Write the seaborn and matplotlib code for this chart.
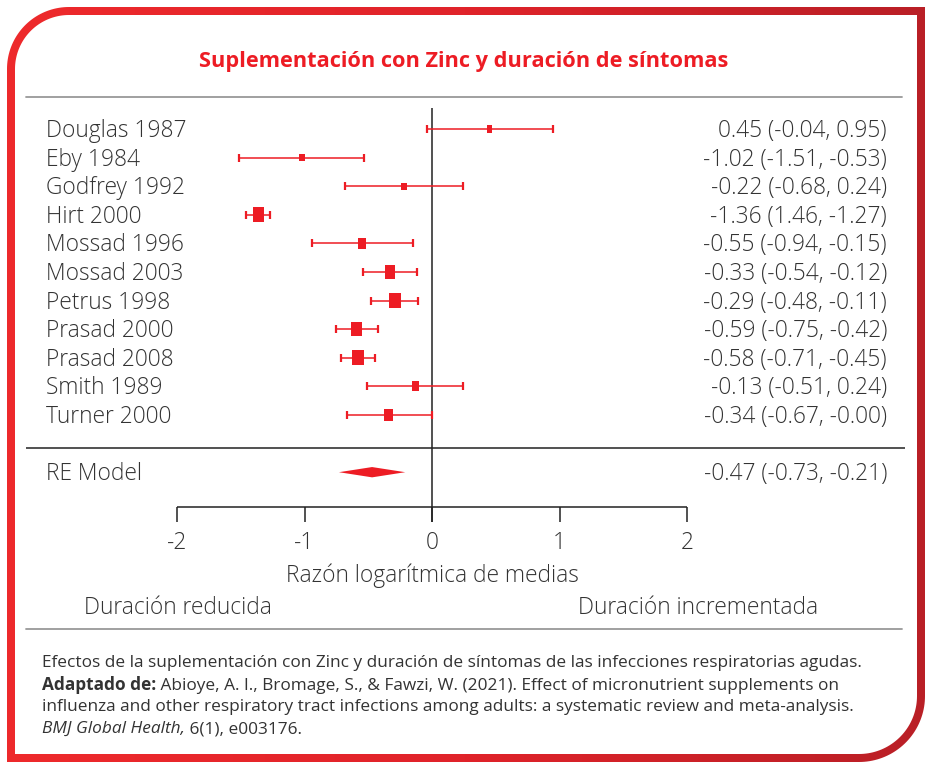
import numpy as np
import pandas as pd
import matplotlib
matplotlib.use("Agg")
import matplotlib.pyplot as plt
from matplotlib.path import Path
from matplotlib.patches import PathPatch
from matplotlib.colors import LinearSegmentedColormap
import seaborn as sns

# data
studies = ["Douglas 1987", "Eby 1984", "Godfrey 1992", "Hirt 2000", "Mossad 1996",
           "Mossad 2003", "Petrus 1998", "Prasad 2000", "Prasad 2008", "Smith 1989",
           "Turner 2000"]
est = [0.45, -1.02, -0.22, -1.36, -0.55, -0.33, -0.29, -0.59, -0.58, -0.13, -0.34]
ci_lo = [-0.04, -1.51, -0.68, -1.46, -0.94, -0.54, -0.48, -0.75, -0.71, -0.51, -0.67]
ci_hi = [0.95, -0.53, 0.24, -1.27, -0.15, -0.12, -0.11, -0.42, -0.45, 0.24, -0.00]
weights = [4.5, 4.5, 4.5, 13.0, 7.5, 11.0, 12.5, 11.5, 12.5, 6.5, 8.0]
ci_text = ["0.45 (-0.04, 0.95)", "-1.02 (-1.51, -0.53)", "-0.22 (-0.68, 0.24)",
           "-1.36 (1.46, -1.27)", "-0.55 (-0.94, -0.15)", "-0.33 (-0.54, -0.12)",
           "-0.29 (-0.48, -0.11)", "-0.59 (-0.75, -0.42)", "-0.58 (-0.71, -0.45)",
           "-0.13 (-0.51, 0.24)", "-0.34 (-0.67, -0.00)"]
re_est, re_lo, re_hi = -0.47, -0.73, -0.21
re_text = "-0.47 (-0.73, -0.21)"
xticks = [-2, -1, 0, 1, 2]

RED = "#ed1c24"
TXT = "#333333"
LW = "light"
FS = 16.4

df = pd.DataFrame({"study": studies, "est": est, "lo": ci_lo, "hi": ci_hi,
                   "weight": weights})
df["row"] = np.arange(len(df))
re_row = len(df) + 1

sns.set_theme(style="white")
plt.rcParams["font.family"] = ["Open Sans", "DejaVu Sans"]

W, H = 930, 767
fig = plt.figure(figsize=(W / 100, H / 100), dpi=100)
fig.patch.set_facecolor("white")

# background layer in pixel coordinates: red frame and grey rules
bg = fig.add_axes([0, 0, 1, 1], zorder=0)
bg.set_xlim(0, W)
bg.set_ylim(H, 0)
bg.axis("off")


def frame(x0, y0, x1, y1, r1, r2):
    t = np.linspace(0, np.pi / 2, 40)
    v = [(x0 + r1, y0), (x1, y0), (x1, y1 - r2)]
    v += list(zip(x1 - r2 + r2 * np.cos(t), y1 - r2 + r2 * np.sin(t)))
    v += [(x0, y1), (x0, y0 + r1)]
    v += list(zip(x0 + r1 + r1 * np.cos(np.pi + t), y0 + r1 + r1 * np.sin(np.pi + t)))
    return v


outer = frame(7, 7, 925, 762, 62, 66)
inner = frame(15, 15, 917, 754, 54, 58)[::-1]
verts = outer + [outer[0]] + inner + [inner[0]]
codes = ([Path.MOVETO] + [Path.LINETO] * (len(outer) - 1) + [Path.CLOSEPOLY]
         + [Path.MOVETO] + [Path.LINETO] * (len(inner) - 1) + [Path.CLOSEPOLY])
patch = PathPatch(Path(verts, codes), facecolor="none", edgecolor="none")
bg.add_patch(patch)
cmap = LinearSegmentedColormap.from_list("frame", ["#ee2a2c", "#e0232a", "#b91f26"])
grad = np.linspace(0, 1, 256).reshape(1, -1)
im = bg.imshow(grad, extent=(0, W, H, 0), cmap=cmap, aspect="auto")
im.set_clip_path(patch)
bg.set_xlim(0, W)
bg.set_ylim(H, 0)

bg.plot([26, 902], [97, 97], color="#999999", lw=1.3)
bg.plot([26, 902], [629, 629], color="#999999", lw=1.3)

fig.text(464 / W, 1 - 61 / H, "Suplementación con Zinc y duración de síntomas",
         color=RED, fontsize=15.7, fontweight="bold", ha="center", va="center")

# forest plot axes: x = log ratio of means, y = row number
ax = fig.add_axes([26 / W, (H - 629) / H, 879 / W, 532 / H], zorder=2)
ax.patch.set_alpha(0)
ax.set_xlim((26 - 432) / 127.5, (905 - 432) / 127.5)
ax.set_ylim((629 - 129) / 28.6, (97 - 129) / 28.6)
ax.axis("off")

ax.errorbar(df["est"], df["row"], xerr=[df["est"] - df["lo"], df["hi"] - df["est"]],
            fmt="none", ecolor=RED, elinewidth=1.1, capsize=3, capthick=1.6, zorder=3)
box = [(-0.75, -1), (0.75, -1), (0.75, 1), (-0.75, 1), (-0.75, -1)]
sns.scatterplot(data=df, x="est", y="row", size="weight", sizes=(28, 122),
                marker=box, color=RED, edgecolor="none", linewidth=0,
                legend=False, ax=ax, zorder=4)

ax.fill([re_lo, re_est, re_hi, re_est],
        [re_row, re_row - 0.18, re_row, re_row + 0.18], color=RED, lw=0, zorder=4)

# rules, zero line and x axis
ax.hlines(11.15, *ax.get_xlim(), color="#222222", lw=1.1)
ax.vlines(0, -0.75, 13.74, color="#222222", lw=1.1)
axis_y = 13.22
ax.hlines(axis_y, xticks[0], xticks[-1], color="#222222", lw=1.1)
ax.vlines(xticks, axis_y, 13.74, color="#222222", lw=1.1)
dy = 0.07
for t in xticks:
    ax.text(t, 14.41 + dy, str(t), ha="center", va="center", fontsize=FS, color=TXT,
            fontweight=LW)
ax.text(0, 15.56 + dy, "Razón logarítmica de medias", ha="center", va="center",
        fontsize=FS, color=TXT, fontweight=LW)
ax.text(-1.99, 16.68 + dy, "Duración reducida", ha="center", va="center",
        fontsize=FS, color=TXT, fontweight=LW)
ax.text(2.09, 16.68 + dy, "Duración incrementada", ha="center", va="center",
        fontsize=FS, color=TXT, fontweight=LW)

tr = ax.get_yaxis_transform()
for r, name, txt in zip(df["row"], df["study"], ci_text):
    ax.text((46 - 26) / 879, r + dy, name, transform=tr, ha="left", va="center",
            fontsize=FS, color=TXT, fontweight=LW)
    ax.text((887 - 26) / 879, r + dy, txt, transform=tr, ha="right", va="center",
            fontsize=FS, color=TXT, fontweight=LW)
ax.text((46 - 26) / 879, re_row + dy, "RE Model", transform=tr, ha="left", va="center",
        fontsize=FS, color=TXT, fontweight=LW)
ax.text((887 - 26) / 879, re_row + dy, re_text, transform=tr, ha="right", va="center",
        fontsize=FS, color=TXT, fontweight=LW)

# caption
fs = 12.45
x0 = 42 / W
fig.text(x0, 1 - 663 / H, "Efectos de la suplementación con Zinc y duración de síntomas "
         "de las infecciones respiratorias agudas.", fontsize=fs, color=TXT, va="center")
a = fig.text(x0, 1 - 685 / H, "Adaptado de:", fontsize=fs, color=TXT, va="center",
             fontweight="bold")
ax.annotate(" Abioye, A. I., Bromage, S., & Fawzi, W. (2021). Effect of micronutrient "
            "supplements on", xy=(1, 0), xycoords=a, va="bottom", fontsize=fs, color=TXT,
            annotation_clip=False)
fig.text(x0, 1 - 707 / H, "influenza and other respiratory tract infections among adults: "
         "a systematic review and meta-analysis.", fontsize=fs, color=TXT, va="center")
b = fig.text(x0, 1 - 729 / H, "BMJ Global Health,", fontsize=fs, color=TXT, va="center",
             style="italic")
ax.annotate(" 6(1), e003176.", xy=(1, 0), xycoords=b, va="bottom", fontsize=fs,
            color=TXT, annotation_clip=False)

fig.savefig("out.png", dpi=100, facecolor="white")
